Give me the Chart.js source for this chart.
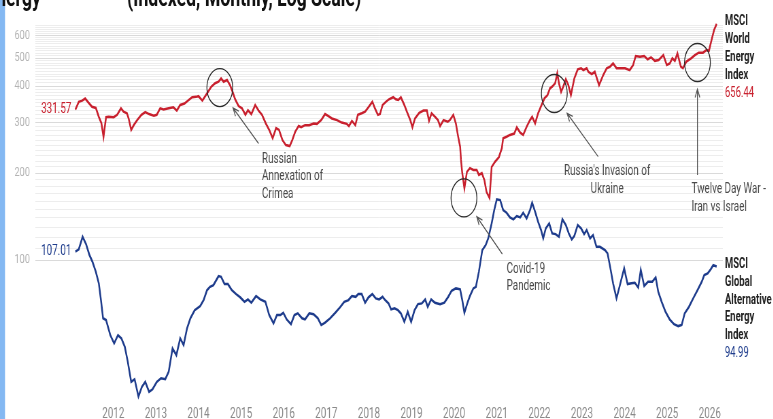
<!DOCTYPE html>
<html>
<head>
<meta charset="utf-8">
<title>MSCI World Energy vs MSCI Global Alternative Energy</title>
<script src="https://cdn.jsdelivr.net/npm/chart.js@4.4.1/dist/chart.umd.min.js"></script>
<style>
  html, body { margin: 0; padding: 0; background: #fff; overflow: hidden; }
  /* the whole drawing is laid out wide, then squeezed horizontally */
  #wrap { width: 1137px; height: 419px; transform: scaleX(0.68); transform-origin: 0 0; }
</style>
</head>
<body>
<div id="wrap"><canvas id="energyChart"></canvas></div>
<script>
const S = 0.68;

// MSCI World Energy Index (log scale)
const worldYears = [
  2011.11, 2011.19, 2011.27, 2011.34, 2011.42, 2011.50, 2011.59, 2011.66, 2011.72, 2011.77, 2011.83, 2011.89,
  2012.01, 2012.09, 2012.18, 2012.24, 2012.32, 2012.36, 2012.42, 2012.48, 2012.56, 2012.66, 2012.75, 2012.84, 2012.95,
  2013.02, 2013.10, 2013.18, 2013.30, 2013.41, 2013.49, 2013.57, 2013.67, 2013.77, 2013.85, 2013.94,
  2014.00, 2014.09, 2014.20, 2014.30, 2014.39, 2014.47, 2014.53, 2014.59, 2014.67, 2014.74, 2014.80, 2014.86, 2014.94,
  2015.02, 2015.10, 2015.16, 2015.24, 2015.33, 2015.41, 2015.49, 2015.58, 2015.66, 2015.74, 2015.82, 2015.89, 2015.97,
  2016.05, 2016.14, 2016.20, 2016.27, 2016.35, 2016.41, 2016.50, 2016.60, 2016.70, 2016.78, 2016.88, 2016.97,
  2017.05, 2017.13, 2017.25, 2017.36, 2017.48, 2017.53, 2017.60, 2017.68, 2017.74, 2017.83, 2017.91, 2017.99,
  2018.08, 2018.14, 2018.21, 2018.26, 2018.32, 2018.40, 2018.47, 2018.57, 2018.63, 2018.69, 2018.75, 2018.83, 2018.89, 2018.97,
  2019.02, 2019.08, 2019.18, 2019.28, 2019.36, 2019.41, 2019.47, 2019.55, 2019.62, 2019.67, 2019.75, 2019.85, 2019.90, 2019.98,
  2020.04, 2020.10, 2020.14, 2020.16, 2020.19, 2020.24, 2020.30, 2020.37, 2020.45, 2020.53, 2020.58, 2020.65, 2020.71, 2020.76, 2020.83, 2020.88, 2020.96,
  2021.05, 2021.12, 2021.15, 2021.23, 2021.31, 2021.41, 2021.47, 2021.55, 2021.62, 2021.70, 2021.78, 2021.83, 2021.90, 2021.97,
  2022.04, 2022.12, 2022.19, 2022.25, 2022.30, 2022.37, 2022.42, 2022.46, 2022.51, 2022.56, 2022.62, 2022.68, 2022.74, 2022.82, 2022.90, 2022.98,
  2023.03, 2023.11, 2023.15, 2023.23, 2023.30, 2023.40, 2023.50, 2023.58, 2023.66, 2023.73, 2023.81, 2023.91,
  2024.01, 2024.12, 2024.20, 2024.26, 2024.36, 2024.46, 2024.54, 2024.62, 2024.71, 2024.80, 2024.91, 2024.99,
  2025.06, 2025.12, 2025.18, 2025.24, 2025.32, 2025.37, 2025.45, 2025.56, 2025.65, 2025.74, 2025.84, 2025.92, 2025.98,
  2026.04, 2026.10, 2026.16
];
const worldValues = [
  331.57, 353, 356, 362, 350, 339, 336, 313, 298, 267, 312, 313,
  312, 318, 335, 326, 322, 309, 282, 293, 305, 318, 325, 320, 316,
  318, 335, 332, 335, 338, 329, 344, 348, 358, 366, 367,
  369, 356, 377, 398, 409, 414, 425, 414, 420, 403, 382, 360, 341,
  335, 318, 330, 320, 344, 329, 318, 297, 282, 264, 286, 282, 260,
  250, 248, 260, 278, 291, 288, 293, 293, 297, 296, 305, 320,
  315, 309, 305, 299, 296, 291, 303, 293, 318, 322, 326, 338,
  353, 335, 318, 320, 344, 353, 360, 366, 360, 358, 366, 344, 326, 305,
  288, 309, 323, 329, 329, 303, 322, 313, 305, 291, 305, 301, 305, 318,
  297, 264, 247, 222, 200, 177, 202, 208, 205, 205, 197, 200, 189, 172, 164, 210, 219,
  227, 244, 264, 267, 271, 274, 288, 276, 271, 289, 305, 313, 297, 322,
  341, 363, 372, 393, 398, 409, 443, 409, 382, 398, 422, 403, 372, 425, 457, 461,
  454, 461, 448, 440, 448, 403, 437, 461, 467, 479, 461, 461,
  461, 454, 473, 508, 505, 508, 495, 503, 489, 492, 512, 473,
  479, 499, 489, 519, 467, 461, 486, 499, 512, 522, 522, 533, 530,
  577, 625, 656.44
];

// MSCI Global Alternative Energy Index (log scale)
const altYears = [
  2011.11, 2011.19, 2011.28, 2011.36, 2011.44, 2011.51, 2011.59, 2011.66, 2011.71, 2011.76, 2011.83, 2011.93,
  2012.02, 2012.11, 2012.19, 2012.27, 2012.34, 2012.42, 2012.50, 2012.59, 2012.67, 2012.75, 2012.84, 2012.92,
  2013.02, 2013.12, 2013.22, 2013.30, 2013.39, 2013.48, 2013.57, 2013.65, 2013.73, 2013.81, 2013.91,
  2014.00, 2014.04, 2014.12, 2014.20, 2014.27, 2014.35, 2014.47, 2014.53, 2014.61, 2014.69, 2014.78, 2014.88, 2014.98,
  2015.08, 2015.16, 2015.24, 2015.35, 2015.45, 2015.57, 2015.66, 2015.76, 2015.84, 2015.92, 2015.99,
  2016.07, 2016.17, 2016.25, 2016.33, 2016.43, 2016.50, 2016.60, 2016.70, 2016.80, 2016.88, 2016.97,
  2017.09, 2017.21, 2017.32, 2017.42, 2017.52, 2017.60, 2017.69, 2017.75, 2017.83, 2017.91, 2017.99,
  2018.08, 2018.16, 2018.24, 2018.32, 2018.38, 2018.46, 2018.52, 2018.60, 2018.68, 2018.75, 2018.83, 2018.91, 2018.99,
  2019.07, 2019.15, 2019.24, 2019.32, 2019.38, 2019.46, 2019.55, 2019.67, 2019.77, 2019.86, 2019.94,
  2020.04, 2020.14, 2020.19, 2020.24, 2020.32, 2020.37, 2020.45, 2020.51, 2020.58, 2020.66, 2020.74, 2020.80, 2020.88, 2020.94,
  2021.00, 2021.08, 2021.15, 2021.23, 2021.31, 2021.39, 2021.47, 2021.55, 2021.62, 2021.70, 2021.78, 2021.83, 2021.90, 2021.97,
  2022.04, 2022.09, 2022.15, 2022.23, 2022.30, 2022.38, 2022.46, 2022.54, 2022.62, 2022.69, 2022.76, 2022.82, 2022.90, 2022.98,
  2023.05, 2023.11, 2023.19, 2023.26, 2023.34, 2023.42, 2023.54, 2023.60, 2023.66, 2023.73, 2023.81, 2023.89, 2023.99,
  2024.07, 2024.16, 2024.24, 2024.32, 2024.38, 2024.46, 2024.55, 2024.65, 2024.73, 2024.79, 2024.87, 2024.96,
  2025.06, 2025.16, 2025.26, 2025.34, 2025.41, 2025.51, 2025.61, 2025.71, 2025.81, 2025.87, 2025.95,
  2026.02, 2026.08, 2026.16
];
const altValues = [
  107.01, 108.9, 120.4, 113.6, 104.1, 98.7, 91.1, 83.1, 72.7, 62.9, 62.0, 55.0,
  51.5, 55.0, 53.6, 50.1, 44.5, 37.9, 38.7, 33.7, 36.4, 37.9, 35.0, 35.7,
  37.9, 39.0, 38.7, 41.1, 49.5, 46.9, 53.6, 50.8, 58.0, 62.9, 67.1,
  68.6, 69.3, 72.7, 78.7, 80.8, 81.9, 88.0, 87.5, 82.6, 82.6, 78.7, 76.3, 74.3,
  71.7, 73.1, 71.2, 75.1, 73.1, 71.7, 64.5, 60.4, 64.5, 64.5, 65.7,
  62.3, 60.0, 64.5, 65.4, 62.9, 62.3, 65.4, 65.0, 62.9, 59.6, 60.8,
  62.9, 65.7, 68.6, 71.7, 72.7, 75.1, 74.6, 76.3, 76.3, 71.2, 74.3,
  76.3, 73.7, 73.1, 74.6, 72.7, 70.8, 67.5, 68.1, 67.1, 65.4, 61.2, 66.2, 61.2,
  67.1, 70.4, 70.8, 73.1, 68.9, 73.1, 71.2, 70.4, 71.2, 74.6, 78.3,
  79.8, 79.2, 72.7, 65.7, 71.7, 75.1, 79.8, 80.8, 91.1, 108.3, 112.7, 118.9, 133.9, 148.9,
  162.2, 161.3, 148.9, 145.8, 140.5, 138.3, 142.0, 140.5, 145.8, 139.4, 148.9, 157.9, 147.0, 135.7,
  127.0, 118.9, 128.7, 133.9, 123.7, 123.0, 120.4, 138.3, 132.2, 123.7, 117.9, 121.1, 132.2, 128.7,
  123.0, 127.0, 118.9, 122.0, 111.2, 111.2, 108.3, 105.5, 94.8, 83.1, 73.7, 81.9, 93.6,
  82.6, 83.1, 83.5, 80.4, 92.4, 81.3, 84.1, 84.1, 87.1, 77.7, 71.7, 66.2,
  62.3, 60.0, 59.1, 59.6, 65.4, 68.9, 73.7, 78.7, 84.1, 88.7, 89.9,
  92.9, 96.1, 94.99
];

const yearTicks = [2012, 2013, 2014, 2015, 2016, 2017, 2018, 2019, 2020, 2021, 2022, 2023, 2024, 2025, 2026];
const labelledTicks = [100, 200, 300, 400, 500, 600];
// light grid every 10 points from 100 up
const gridValues = [];
for (let v = 100; v <= 650; v += 10) gridValues.push(v);

const seriesNames = {
  world: ['MSCI', 'World', 'Energy', 'Index'],
  alt: ['MSCI', 'Global', 'Alternative', 'Energy', 'Index']
};

// event markers: circle on the line, arrow from the caption
const events = [
  { lines: ['Russian', 'Annexation of', 'Crimea'], align: 'left', at: [2015.49, 223.6],
    ring: [2014.50, 395], tail: [2015.41, 253], head: [2014.81, 336] },
  { lines: ['Covid-19', 'Pandemic'], align: 'left', at: [2021.23, 92.9],
    ring: [2020.23, 164], tail: [2021.13, 104.9], head: [2020.53, 141.2] },
  { lines: ["Russia's Invasion of", 'Ukraine'], align: 'center', at: [2023.59, 202],
    ring: [2022.35, 377], tail: [2023.38, 228], head: [2022.65, 322] },
  { lines: ['Twelve Day War -', 'Iran vs Israel'], align: 'left', at: [2025.57, 175.6],
    ring: [2025.71, 482.5], tail: [2025.71, 196.8], head: [2025.71, 390] }
];

const RED = '#c8202e';
const BLUE = '#1e3c8c';
const FONT = 'Roboto, "Noto Sans", sans-serif';

const toPoints = (xs, ys) => xs.map((x, i) => ({ x, y: ys[i] }));

const overlay = {
  id: 'overlay',
  beforeDraw(chart) {
    const { ctx } = chart;
    ctx.save();
    // blue page edge on the left
    ctx.fillStyle = '#84b8f2';
    ctx.fillRect(0, 0, 5 / S, chart.height);
    // heading, cut by the top edge
    ctx.fillStyle = '#111';
    ctx.font = 'bold 26px ' + FONT;
    ctx.textBaseline = 'alphabetic';
    const lead = ctx.measureText('En').width;
    ctx.fillText('Energy', 6 / S - lead, 6);
    ctx.fillText('(Indexed, Monthly, Log Scale)', 127 / S, 6, 253 / S);
    ctx.restore();
  },
  afterDatasetsDraw(chart) {
    const { ctx, chartArea, scales: { x, y } } = chart;
    const px = v => x.getPixelForValue(v);
    const py = v => y.getPixelForValue(v);
    ctx.save();

    // rings
    ctx.strokeStyle = '#2a2a2a';
    ctx.lineWidth = 1.3;
    events.forEach(e => {
      ctx.beginPath();
      ctx.arc(px(e.ring[0]), py(e.ring[1]), 19, 0, Math.PI * 2);
      ctx.stroke();
    });

    // arrows
    ctx.strokeStyle = '#555';
    ctx.lineWidth = 1.3;
    events.forEach(e => {
      const tx = px(e.tail[0]), ty = py(e.tail[1]);
      const hx = px(e.head[0]), hy = py(e.head[1]);
      const ang = Math.atan2(hy - ty, hx - tx);
      ctx.beginPath();
      ctx.moveTo(tx, ty);
      ctx.lineTo(hx, hy);
      ctx.moveTo(hx - 9 * Math.cos(ang - 0.4), hy - 9 * Math.sin(ang - 0.4));
      ctx.lineTo(hx, hy);
      ctx.lineTo(hx - 9 * Math.cos(ang + 0.4), hy - 9 * Math.sin(ang + 0.4));
      ctx.stroke();
    });

    // captions
    ctx.fillStyle = '#4a4a4a';
    ctx.font = '14.5px ' + FONT;
    ctx.textBaseline = 'middle';
    events.forEach(e => {
      ctx.textAlign = e.align;
      e.lines.forEach((t, i) => ctx.fillText(t, px(e.at[0]), py(e.at[1]) + i * 17.5));
    });

    // first values, left of the lines
    ctx.textAlign = 'right';
    ctx.font = '14.5px ' + FONT;
    ctx.fillStyle = RED;
    ctx.fillText(worldValues[0].toFixed(2), px(worldYears[0]) - 4 / S, py(worldValues[0]));
    ctx.fillStyle = BLUE;
    ctx.fillText(altValues[0].toFixed(2), px(altYears[0]) - 4 / S, py(altValues[0]));

    // series names and last values, right of the plot
    const nameX = chartArea.right + 2 / S;
    const block = (names, last, color) => {
      const top = py(last) - 2;
      ctx.textAlign = 'left';
      ctx.font = 'bold 14px ' + FONT;
      ctx.fillStyle = '#222';
      names.forEach((t, i) => ctx.fillText(t, nameX, top + i * 17.8));
      ctx.font = '14px ' + FONT;
      ctx.fillStyle = color;
      ctx.fillText(last.toFixed(2), nameX, top + names.length * 17.8);
    };
    block(seriesNames.world, worldValues[worldValues.length - 1], RED);
    block(seriesNames.alt, altValues[altValues.length - 1], BLUE);

    ctx.restore();
  }
};

new Chart(document.getElementById('energyChart'), {
  type: 'line',
  data: {
    datasets: [
      {
        label: 'MSCI World Energy Index',
        data: toPoints(worldYears, worldValues),
        borderColor: RED,
        borderWidth: 2.5,
        pointRadius: 0,
        tension: 0
      },
      {
        label: 'MSCI Global Alternative Energy Index',
        data: toPoints(altYears, altValues),
        borderColor: BLUE,
        borderWidth: 2.5,
        pointRadius: 0,
        tension: 0
      }
    ]
  },
  options: {
    responsive: true,
    maintainAspectRatio: false,
    animation: false,
    layout: { padding: { left: 0, right: 74, top: 20, bottom: 0 } },
    plugins: {
      legend: { display: false },
      tooltip: { enabled: false }
    },
    scales: {
      x: {
        type: 'linear',
        min: 2010.171,
        max: 2026.306,
        border: { display: false },
        grid: { display: false, drawTicks: false },
        afterBuildTicks: (scale) => { scale.ticks = yearTicks.map(v => ({ value: v })); },
        afterFit: (scale) => { scale.height = 19; },
        ticks: {
          autoSkip: false,
          maxRotation: 0,
          padding: 6,
          color: '#8a8a8a',
          font: { family: FONT, size: 14.5 },
          callback: (v) => String(v)
        }
      },
      y: {
        type: 'logarithmic',
        min: 32.8,
        max: 677,
        border: { display: false },
        grid: {
          drawTicks: false,
          color: (c) => labelledTicks.includes(c.tick && c.tick.value) ? '#dadada' : '#ededed',
          lineWidth: 1
        },
        afterBuildTicks: (scale) => { scale.ticks = gridValues.map(v => ({ value: v })); },
        afterFit: (scale) => { scale.width = 52; },
        ticks: {
          autoSkip: false,
          padding: 8,
          color: '#b3b3b3',
          font: { family: FONT, size: 13.5 },
          callback: (v) => labelledTicks.includes(v) ? String(v) : ''
        }
      }
    }
  },
  plugins: [overlay]
});
</script>
</body>
</html>
